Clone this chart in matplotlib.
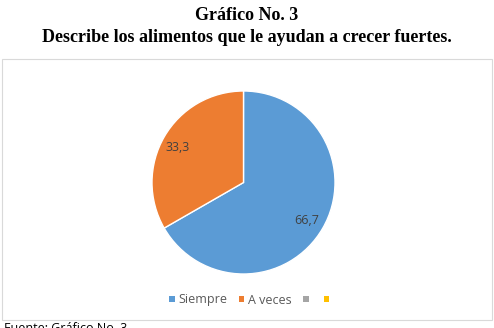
import matplotlib.pyplot as plt
import matplotlib.patches as patches

W, H = 494, 328

categories = ['Siempre', 'A veces', '', '']
values = [66.7, 33.3, 0, 0]
colors = ['#5b9bd5', '#ed7d31', '#a5a5a5', '#ffc000']
labels = ['66,7', '33,3']

fig = plt.figure(figsize=(W / 100, H / 100), dpi=100)
fig.patch.set_facecolor('white')

# title lines
fig.text(0.5, 1 - 15 / H, 'Gráfico No. 3', ha='center', va='center',
         fontsize=13, fontweight='bold', family='Liberation Serif')
fig.text(0.5, 1 - 38 / H, 'Describe los alimentos que le ayudan a crecer fuertes.',
         ha='center', va='center', fontsize=13, fontweight='bold', family='Liberation Serif')

# chart border
box = patches.Rectangle((1.5 / W, 1 - 320 / H), 490 / W, 261 / H, transform=fig.transFigure,
                        facecolor='white', edgecolor='#d9d9d9', linewidth=0.8, zorder=-1)
fig.patches.append(box)

# pie axes, center (243.5, 182.5), radius ~91.5 px
r = 91.5
ax = fig.add_axes([(243.5 - r) / W, 1 - (182.5 + r) / H, 2 * r / W, 2 * r / H])
ax.set_zorder(2)
ax.patch.set_alpha(0)
wedges, _ = ax.pie(values[:2], colors=colors[:2], startangle=90, counterclock=False,
                   wedgeprops=dict(edgecolor='white', linewidth=1))
ax.set_aspect('equal')
ax.set_xlim(-1, 1)
ax.set_ylim(-1, 1)
ax.axis('off')

# data labels
lab_kw = dict(ha='center', va='center', fontsize=9, color='#404040', family='Open Sans', zorder=5)
fig.text(307 / W, 1 - 220 / H, labels[0], **lab_kw)
fig.text(178 / W, 1 - 147 / H, labels[1], **lab_kw)

# legend
handles = [patches.Patch(facecolor=c, edgecolor='none') for c in colors]
fig.legend(handles, categories, loc='center', bbox_to_anchor=(251 / W, 1 - 300 / H),
           ncol=4, frameon=False, handlelength=0.45, handleheight=0.45, handletextpad=0.3,
           columnspacing=0.9, prop={'family': 'Open Sans', 'size': 9}, labelcolor='#595959')

# source line, cut off at the bottom like the reference
fig.text(4 / W, 1 - 322 / H, 'Fuente: Gráfico No. 3', ha='left', va='top', fontsize=9,
         family='Open Sans', color='black')

fig.savefig('out.png', dpi=100)
